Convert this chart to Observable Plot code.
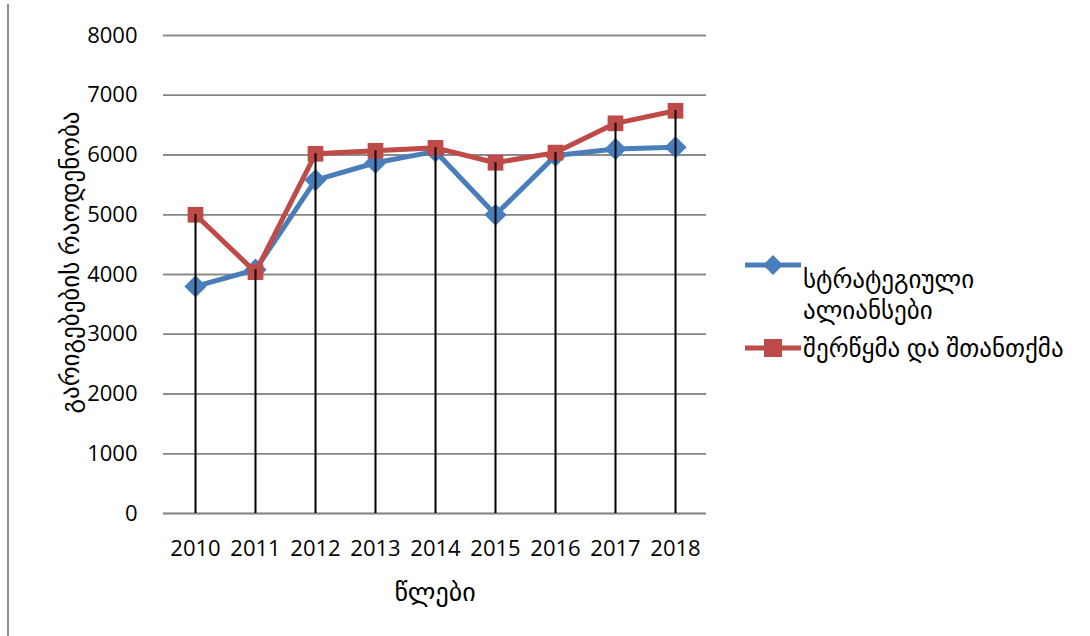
<!DOCTYPE html>
<html>
<head>
<meta charset="utf-8">
<script src="https://cdn.jsdelivr.net/npm/d3@7"></script>
<script src="https://cdn.jsdelivr.net/npm/@observablehq/plot@0.6"></script>
<style>
  html, body { margin: 0; padding: 0; background: #fff; }
  #wrap { position: relative; width: 1090px; height: 636px; overflow: hidden; font-family: "Open Sans", "DejaVu Sans", sans-serif; }
  #border { position: absolute; left: 7px; top: 4px; width: 2px; height: 640px; background: #8c8c8c; }
  .leg { position: absolute; font-size: 25px; color: #000; line-height: 30px; height: 30px; white-space: nowrap; }
</style>
</head>
<body>
<div id="wrap">
  <div id="border"></div>
  <div id="chart"></div>
  <div id="legend"></div>
</div>
<script>
const years = ["2010","2011","2012","2013","2014","2015","2016","2017","2018"];
const alliances = [3800, 4080, 5580, 5870, 6060, 5000, 5990, 6100, 6130];
const mergers = [5000, 4040, 6020, 6070, 6120, 5870, 6040, 6530, 6740];
const yTicks = [0,1000,2000,3000,4000,5000,6000,7000,8000];
const seriesNames = ["სტრატეგიული ალიანსები", "შერწყმა და შთანთქმა"];
const legendLines = [["სტრატეგიული", "ალიანსები"], ["შერწყმა და შთანთქმა"]];
const yTitle = "გარიგებების რაოდენობა";
const xTitle = "წლები";
const colors = ["#4a7ebb", "#be4b48"];

const blue = years.map((y, i) => ({year: y, value: alliances[i]}));
const red = years.map((y, i) => ({year: y, value: mergers[i]}));
const drops = years.map((y, i) => ({year: y, top: Math.max(alliances[i], mergers[i])}));

const chart = Plot.plot({
  width: 1090,
  height: 636,
  marginLeft: 163,
  marginRight: 384,
  marginTop: 35,
  marginBottom: 123,
  style: {fontFamily: "'Open Sans', 'DejaVu Sans', sans-serif", background: "transparent"},
  x: {type: "point", domain: years, padding: 0.5},
  y: {domain: [0, 8000]},
  marks: [
    Plot.gridY(yTicks, {stroke: "#868686", strokeOpacity: 1, strokeWidth: 1.5}),
    Plot.tickY(yTicks, {y: d => d, x1: 155, x2: 163, stroke: "#868686", strokeWidth: 1.5}),
    Plot.axisY(yTicks, {tickSize: 0, tickPadding: 26, fontSize: 22, tickFormat: d => String(d), label: null, fill: "#000"}),
    Plot.axisX({tickSize: 0, tickPadding: 27, fontSize: 22, label: null, fill: "#000"}),
    Plot.ruleY([0], {stroke: "#868686", strokeWidth: 1.5}),
    Plot.line(blue, {x: "year", y: "value", stroke: colors[0], strokeWidth: 5}),
    Plot.dot(blue, {x: "year", y: "value", symbol: "diamond2", r: 10, fill: colors[0], stroke: "none"}),
    Plot.line(red, {x: "year", y: "value", stroke: colors[1], strokeWidth: 5}),
    Plot.dot(red, {x: "year", y: "value", symbol: "square2", r: 10, fill: colors[1], stroke: "none"}),
    Plot.ruleX(drops, {x: "year", y1: 0, y2: "top", stroke: "#000", strokeWidth: 2}),
    Plot.text([yTitle], {frameAnchor: "left", textAnchor: "middle", dx: -93, dy: -12, rotate: -90, fontSize: 25, fill: "#000"}),
    Plot.text([xTitle], {frameAnchor: "bottom", dy: 87, fontSize: 26, fill: "#000"})
  ]
});
document.getElementById("chart").appendChild(chart);

// legend
const leg = document.getElementById("legend");
const legY = [265, 348];
const textTop = [263, 332];
legendLines.forEach((lines, i) => {
  const sw = document.createElementNS("http://www.w3.org/2000/svg", "svg");
  sw.setAttribute("width", 60); sw.setAttribute("height", 24);
  sw.style.position = "absolute"; sw.style.left = "743px"; sw.style.top = (legY[i] - 12) + "px";
  const ln = document.createElementNS("http://www.w3.org/2000/svg", "line");
  ln.setAttribute("x1", 2); ln.setAttribute("x2", 58); ln.setAttribute("y1", 12); ln.setAttribute("y2", 12);
  ln.setAttribute("stroke", colors[i]); ln.setAttribute("stroke-width", 5);
  sw.appendChild(ln);
  if (i === 0) {
    const p = document.createElementNS("http://www.w3.org/2000/svg", "path");
    p.setAttribute("d", "M30,2 L40,12 L30,22 L20,12 Z"); p.setAttribute("fill", colors[i]);
    sw.appendChild(p);
  } else {
    const r = document.createElementNS("http://www.w3.org/2000/svg", "rect");
    r.setAttribute("x", 21); r.setAttribute("y", 3); r.setAttribute("width", 18); r.setAttribute("height", 18);
    r.setAttribute("fill", colors[i]);
    sw.appendChild(r);
  }
  leg.appendChild(sw);
  lines.forEach((line, j) => {
    const t = document.createElement("div");
    t.className = "leg";
    t.style.left = "803px";
    t.style.top = (textTop[i] + j * 31) + "px";
    t.textContent = line;
    leg.appendChild(t);
  });
});
</script>
</body>
</html>
